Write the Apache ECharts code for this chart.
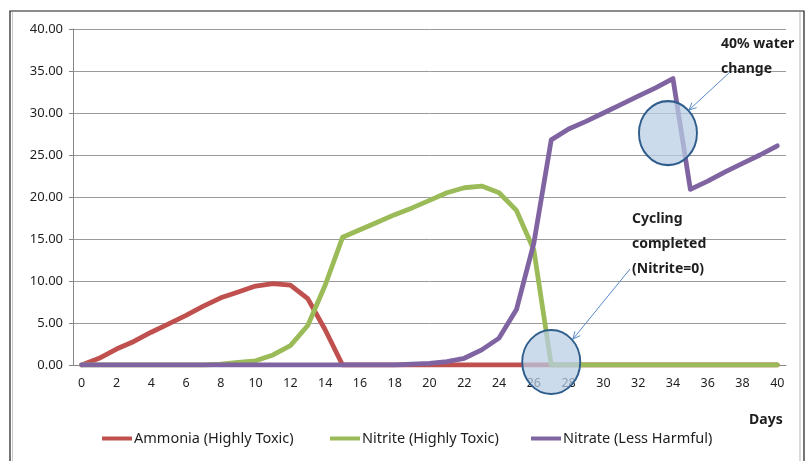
<!DOCTYPE html>
<html>
<head>
<meta charset="utf-8">
<script src="https://cdn.jsdelivr.net/npm/echarts@6/dist/echarts.min.js"></script>
<style>
  html, body { margin: 0; padding: 0; background: #fff; }
  #chart { width: 809px; height: 461px; }
</style>
</head>
<body>
<div id="chart"></div>
<script>
// Days of the cycle (category axis)
const days = Array.from({ length: 41 }, (_, i) => String(i));

// Concentration readings per day (ppm)
const ammonia = [0, 0.8, 1.9, 2.8, 3.9, 4.9, 5.9, 7.0, 8.0, 8.7, 9.4, 9.7, 9.5, 7.9, 4.2, 0,
  0, 0, 0, 0, 0, 0, 0, 0, 0, 0, 0, 0, 0, 0, 0, 0, 0, 0, 0, 0, 0, 0, 0, 0, 0];
const nitrite = [0, 0, 0, 0, 0, 0, 0, 0, 0.1, 0.3, 0.5, 1.2, 2.3, 4.7, 9.5, 15.2,
  16.1, 17.0, 17.9, 18.7, 19.6, 20.5, 21.1, 21.3, 20.5, 18.4, 13.7, 0,
  0, 0, 0, 0, 0, 0, 0, 0, 0, 0, 0, 0, 0];
const nitrate = [0, 0, 0, 0, 0, 0, 0, 0, 0, 0, 0, 0, 0, 0, 0, 0, 0, 0, 0, 0.1,
  0.2, 0.4, 0.8, 1.8, 3.2, 6.6, 14.5, 26.8, 28.1, 29.0, 30.0, 31.0, 32.0, 33.0, 34.1,
  20.9, 21.9, 23.0, 24.0, 25.0, 26.1];

// y-axis tick values
const yTicks = [0, 5, 10, 15, 20, 25, 30, 35, 40];

const seriesNames = ['Ammonia (Highly Toxic)', 'Nitrite (Highly Toxic)', 'Nitrate (Less Harmful)'];
const seriesColors = ['#c0504d', '#9bbb59', '#8064a2'];

const FONT = "'Noto Sans', 'Open Sans', sans-serif";
const TEXT = '#1e1e1e';

const chart = echarts.init(document.getElementById('chart'), null, { renderer: 'canvas' });

const bubble = {
  color: 'rgba(185, 205, 229, 0.72)',
  borderColor: '#2f5d8c',
  borderWidth: 2
};

function lineSeries(idx, data, extra) {
  return Object.assign({
    name: seriesNames[idx],
    type: 'line',
    data: data,
    symbol: 'none',
    smooth: false,
    z: 2 + idx,
    lineStyle: { color: seriesColors[idx], width: 4.8, cap: 'round', join: 'round' },
    itemStyle: { color: seriesColors[idx] }
  }, extra || {});
}

function legendAt(left, name) {
  return {
    left: left,
    top: 431,
    data: [name],
    icon: 'rect',
    itemWidth: 30,
    itemHeight: 4,
    itemGap: 0,
    textStyle: { fontFamily: FONT, fontSize: 14.5, color: TEXT, padding: [0, 0, 0, -3] },
    padding: 0
  };
}

function arrow(x1, y1, x2, y2) {
  const ang = Math.atan2(y2 - y1, x2 - x1);
  const L = 8, spread = 0.45;
  const p1 = [x2 - L * Math.cos(ang - spread), y2 - L * Math.sin(ang - spread)];
  const p2 = [x2 - L * Math.cos(ang + spread), y2 - L * Math.sin(ang + spread)];
  const st = { stroke: '#5a8ac6', lineWidth: 1 };
  return [
    { type: 'line', shape: { x1, y1, x2, y2 }, style: st, z: 20 },
    { type: 'polyline', shape: { points: [p1, [x2, y2], p2] }, style: st, z: 20 }
  ];
}

function label(x, y, text) {
  return {
    type: 'text', left: x, top: y, z: 20,
    style: { text: text, font: "bold 14px " + FONT, fill: TEXT }
  };
}

const option = {
  animation: false,
  backgroundColor: '#ffffff',
  grid: { left: 73, right: 23, top: 29, height: 336 },
  xAxis: {
    type: 'category',
    data: days,
    boundaryGap: true,
    axisLine: { lineStyle: { color: '#868686', width: 1 } },
    axisTick: { interval: 1, length: 5, lineStyle: { color: '#868686' } },
    axisLabel: { interval: 1, margin: 12, fontFamily: FONT, fontSize: 12.5, color: TEXT },
    splitLine: { show: false }
  },
  yAxis: {
    type: 'value',
    min: yTicks[0],
    max: yTicks[yTicks.length - 1],
    interval: 5,
    axisLine: { show: true, lineStyle: { color: '#868686', width: 1 } },
    axisTick: { show: true, length: 4, lineStyle: { color: '#868686' } },
    axisLabel: { margin: 10, fontFamily: FONT, fontSize: 13, color: TEXT,
      formatter: v => v.toFixed(2) },
    splitLine: { lineStyle: { color: '#9a9a9a', width: 1 } }
  },
  legend: [
    legendAt(102, seriesNames[0]),
    legendAt(330, seriesNames[1]),
    legendAt(531, seriesNames[2])
  ],
  series: [
    lineSeries(0, ammonia),
    lineSeries(1, nitrite),
    lineSeries(2, nitrate, {
      markPoint: {
        silent: true,
        z: 10,
        label: { show: false },
        data: [
          { coord: ['34', 27.6], symbol: 'circle', symbolSize: [58, 64], symbolOffset: [-5, 0], itemStyle: bubble },
          { coord: ['27', 0], symbol: 'circle', symbolSize: [58, 64], symbolOffset: [0, -3], itemStyle: bubble }
        ]
      }
    })
  ],
  graphic: [
    // chart frame
    { type: 'rect', shape: { x: 10, y: 11, width: 794, height: 470 },
      style: { fill: 'none', stroke: '#1a1a1a', lineWidth: 1.2 }, z: 30, silent: true },
    { type: 'line', shape: { x1: 800, y1: 12, x2: 800, y2: 461 },
      style: { stroke: '#b5b5b5', lineWidth: 1 }, z: 30 },
    { type: 'line', shape: { x1: 12.5, y1: 12, x2: 12.5, y2: 461 },
      style: { stroke: '#c8c8c8', lineWidth: 1 }, z: 30 },
    label(721, 37, '40% water'),
    label(721, 62, 'change'),
    label(632, 212, 'Cycling'),
    label(632, 237, 'completed'),
    label(632, 262, '(Nitrite=0)'),
    label(749, 413, 'Days'),
    ...arrow(730, 72, 689, 110),
    ...arrow(630, 269, 573, 339)
  ]
};

chart.setOption(option);
</script>
</body>
</html>
